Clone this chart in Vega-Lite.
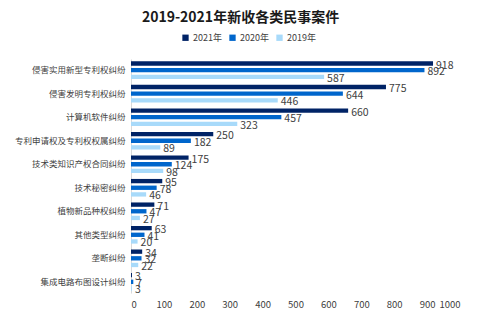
{
  "$schema": "https://vega.github.io/schema/vega-lite/v6.json",
  "autosize": {"type": "none"},
  "width": 329,
  "height": 234,
  "padding": {"left": 131, "top": 59, "right": 44, "bottom": 28},
  "background": "white",
  "config": {
    "font": "Noto Sans CJK SC",
    "view": {"stroke": null}
  },
  "title": {
    "text": "2019-2021年新收各类民事案件",
    "fontSize": 14,
    "fontWeight": "bold",
    "color": "#1a1a1a",
    "anchor": "middle",
    "dx": -55,
    "offset": 8
  },
  "data": {
    "values": [
      {"cat": "侵害实用新型专利权纠纷", "year": "2021年", "v": 918},
      {"cat": "侵害实用新型专利权纠纷", "year": "2020年", "v": 892},
      {"cat": "侵害实用新型专利权纠纷", "year": "2019年", "v": 587},
      {"cat": "侵害发明专利权纠纷", "year": "2021年", "v": 775},
      {"cat": "侵害发明专利权纠纷", "year": "2020年", "v": 644},
      {"cat": "侵害发明专利权纠纷", "year": "2019年", "v": 446},
      {"cat": "计算机软件纠纷", "year": "2021年", "v": 660},
      {"cat": "计算机软件纠纷", "year": "2020年", "v": 457},
      {"cat": "计算机软件纠纷", "year": "2019年", "v": 323},
      {"cat": "专利申请权及专利权权属纠纷", "year": "2021年", "v": 250},
      {"cat": "专利申请权及专利权权属纠纷", "year": "2020年", "v": 182},
      {"cat": "专利申请权及专利权权属纠纷", "year": "2019年", "v": 89},
      {"cat": "技术类知识产权合同纠纷", "year": "2021年", "v": 175},
      {"cat": "技术类知识产权合同纠纷", "year": "2020年", "v": 124},
      {"cat": "技术类知识产权合同纠纷", "year": "2019年", "v": 98},
      {"cat": "技术秘密纠纷", "year": "2021年", "v": 95},
      {"cat": "技术秘密纠纷", "year": "2020年", "v": 78},
      {"cat": "技术秘密纠纷", "year": "2019年", "v": 46},
      {"cat": "植物新品种权纠纷", "year": "2021年", "v": 71},
      {"cat": "植物新品种权纠纷", "year": "2020年", "v": 47},
      {"cat": "植物新品种权纠纷", "year": "2019年", "v": 27},
      {"cat": "其他类型纠纷", "year": "2021年", "v": 63},
      {"cat": "其他类型纠纷", "year": "2020年", "v": 41},
      {"cat": "其他类型纠纷", "year": "2019年", "v": 20},
      {"cat": "垄断纠纷", "year": "2021年", "v": 34},
      {"cat": "垄断纠纷", "year": "2020年", "v": 32},
      {"cat": "垄断纠纷", "year": "2019年", "v": 22},
      {"cat": "集成电路布图设计纠纷", "year": "2021年", "v": 3},
      {"cat": "集成电路布图设计纠纷", "year": "2020年", "v": 7},
      {"cat": "集成电路布图设计纠纷", "year": "2019年", "v": 3}
    ]
  },
  "encoding": {
    "y": {
      "field": "cat",
      "type": "nominal",
      "sort": null,
      "scale": {"paddingInner": 0.25, "paddingOuter": 0.1},
      "axis": {
        "title": null,
        "ticks": false,
        "domain": true,
        "domainColor": "#d9d9d9",
        "labelFontSize": 8.5,
        "labelColor": "#404040",
        "labelPadding": 6
      }
    },
    "yOffset": {
      "field": "year",
      "type": "nominal",
      "sort": ["2021年", "2020年", "2019年"],
      "scale": {"paddingInner": 0.35, "paddingOuter": 0}
    },
    "x": {
      "field": "v",
      "type": "quantitative",
      "scale": {"domain": [0, 1000]},
      "axis": {
        "title": null,
        "values": [0, 100, 200, 300, 400, 500, 600, 700, 800, 900, 1000],
        "format": "d",
        "labelOverlap": false,
        "grid": false,
        "domain": false,
        "ticks": false,
        "labelFontSize": 9.5,
        "labelColor": "#404040",
        "labelPadding": 6
      }
    }
  },
  "layer": [
    {
      "mark": {"type": "bar"},
      "encoding": {
        "color": {
          "field": "year",
          "type": "nominal",
          "sort": ["2021年", "2020年", "2019年"],
          "scale": {
            "domain": ["2021年", "2020年", "2019年"],
            "range": ["#002366", "#0066CC", "#A8DAFA"]
          },
          "legend": {
            "orient": "none",
            "direction": "horizontal",
            "legendX": 50,
            "legendY": -26,
            "title": null,
            "symbolType": "square",
            "symbolSize": 40,
            "symbolStrokeWidth": 0,
            "labelFontSize": 9,
            "labelColor": "#404040",
            "columnPadding": 6,
            "labelOffset": 3
          }
        }
      }
    },
    {
      "mark": {"type": "text", "align": "left", "baseline": "middle", "dx": 3, "dy": 2, "fontSize": 10.5, "color": "#404040"},
      "encoding": {
        "text": {"field": "v", "type": "quantitative"}
      }
    }
  ]
}
